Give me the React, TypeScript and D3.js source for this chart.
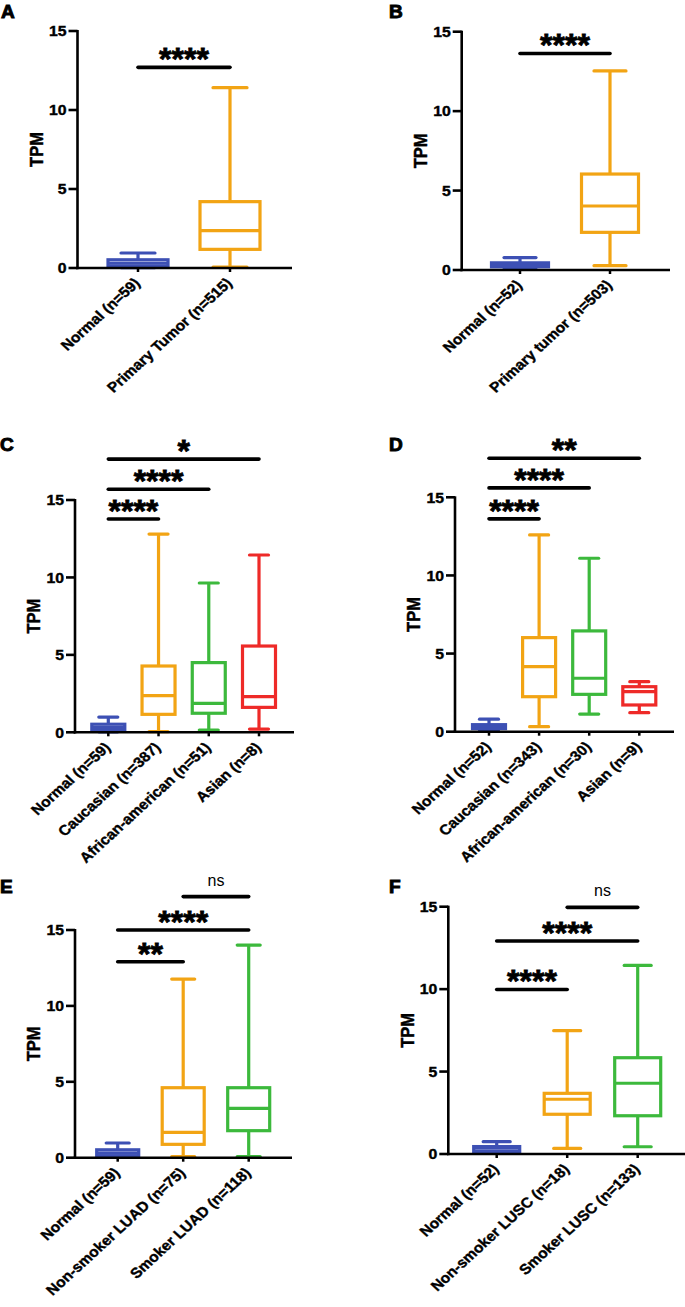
import React from "react";
import * as d3 from "d3";

// ---------- DATA ----------
const BLUE = "#3d50b4";
const ORANGE = "#f2a414";
const GREEN = "#3cb93c";
const RED = "#ee2a28";

const yTicks = [0, 5, 10, 15];

// [min, q1, median, q3, max]
const catsA = ["Normal (n=59)", "Primary Tumor (n=515)"];
const boxesA = [
  [0.03, 0.13, 0.3, 0.52, 0.95],
  [0.05, 1.18, 2.36, 4.2, 11.41],
];
const sigA = [{ from: 0, to: 1, y: 12.7, label: "****" }];

const catsB = ["Normal (n=52)", "Primary tumor (n=503)"];
const boxesB = [
  [0.05, 0.2, 0.35, 0.45, 0.78],
  [0.27, 2.37, 4.03, 6.04, 12.53],
];
const sigB = [{ from: 0, to: 1, y: 13.63, label: "****" }];

const catsC = ["Normal (n=59)", "Caucasian (n=387)", "African-american (n=51)", "Asian (n=8)"];
const boxesC = [
  [0.03, 0.13, 0.3, 0.52, 0.98],
  [0.04, 1.16, 2.37, 4.28, 12.8],
  [0.15, 1.23, 1.87, 4.5, 9.64],
  [0.21, 1.61, 2.3, 5.57, 11.45],
];
const sigC = [
  { from: 0, to: 1, y: 13.77, label: "****" },
  { from: 0, to: 2, y: 15.69, label: "****" },
  { from: 0, to: 3, y: 17.64, label: "*" },
];

const catsD = ["Normal (n=52)", "Caucasian (n=343)", "African-american (n=30)", "Asian (n=9)"];
const boxesD = [
  [0.05, 0.2, 0.35, 0.45, 0.8],
  [0.32, 2.24, 4.16, 6.02, 12.59],
  [1.13, 2.39, 3.42, 6.45, 11.1],
  [1.22, 1.71, 2.56, 2.88, 3.2],
];
const sigD = [
  { from: 0, to: 1, y: 13.62, label: "****" },
  { from: 0, to: 2, y: 15.6, label: "****" },
  { from: 0, to: 3, y: 17.5, label: "**" },
];

const catsE = ["Normal (n=59)", "Non-smoker LUAD (n=75)", "Smoker LUAD (n=118)"];
const boxesE = [
  [0.03, 0.13, 0.3, 0.52, 0.97],
  [0.07, 0.88, 1.67, 4.61, 11.77],
  [0.07, 1.78, 3.25, 4.61, 14.01],
];
const sigE = [
  { from: 0, to: 1, y: 12.91, label: "**" },
  { from: 0, to: 2, y: 15.0, label: "****" },
  { from: 1, to: 2, y: 17.2, label: "ns" },
];

const catsF = ["Normal (n=52)", "Non-smoker LUSC (n=18)", "Smoker LUSC (n=133)"];
const boxesF = [
  [0.05, 0.15, 0.35, 0.45, 0.75],
  [0.34, 2.41, 3.32, 3.68, 7.48],
  [0.44, 2.32, 4.29, 5.84, 11.44],
];
const sigF = [
  { from: 0, to: 1, y: 9.98, label: "****" },
  { from: 0, to: 2, y: 12.92, label: "****" },
  { from: 1, to: 2, y: 14.96, label: "ns" },
];

// ---------- LAYOUT ----------
const FONT = "'Liberation Sans', Arial, Helvetica, sans-serif";
const SX = 1.09; // horizontal stretch of the original figure's text

type Cfg = {
  letter: string;
  lx: number;
  ly: number;
  axisX: number;
  y0: number;
  y15: number;
  xEnd: number;
  cFirst: number;
  cLast: number;
  boxW: number;
  capW: number;
  cats: string[];
  boxes: number[][];
  colors: string[];
  sigs: { from: number; to: number; y: number; label: string }[];
};

const panels: Cfg[] = [
  { letter: "A", lx: 1, ly: 17.5, axisX: 77.5, y0: 268, y15: 31, xEnd: 292, cFirst: 138, cLast: 230, boxW: 60, capW: 34,
    cats: catsA, boxes: boxesA, colors: [BLUE, ORANGE], sigs: sigA },
  { letter: "B", lx: 389, ly: 17.5, axisX: 461.7, y0: 270, y15: 31.7, xEnd: 670, cFirst: 520, cLast: 610, boxW: 57, capW: 32,
    cats: catsB, boxes: boxesB, colors: [BLUE, ORANGE], sigs: sigB },
  { letter: "C", lx: 0, ly: 450.5, axisX: 75, y0: 732.3, y15: 500, xEnd: 294, cFirst: 108.3, cLast: 259, boxW: 33, capW: 19,
    cats: catsC, boxes: boxesC, colors: [BLUE, ORANGE, GREEN, RED], sigs: sigC },
  { letter: "D", lx: 389, ly: 450.5, axisX: 455, y0: 731.7, y15: 497.3, xEnd: 674, cFirst: 489, cLast: 639.3, boxW: 33, capW: 19,
    cats: catsD, boxes: boxesD, colors: [BLUE, ORANGE, GREEN, RED], sigs: sigD },
  { letter: "E", lx: 0, ly: 893, axisX: 75, y0: 1157.7, y15: 930, xEnd: 292, cFirst: 117.7, cLast: 248.7, boxW: 42, capW: 23,
    cats: catsE, boxes: boxesE, colors: [BLUE, ORANGE, GREEN], sigs: sigE },
  { letter: "F", lx: 389, ly: 893, axisX: 448.3, y0: 1154, y15: 906.7, xEnd: 685, cFirst: 496.7, cLast: 637.7, boxW: 46, capW: 27,
    cats: catsF, boxes: boxesF, colors: [BLUE, ORANGE, GREEN], sigs: sigF },
];

const heavy = { stroke: "#000", strokeWidth: 0.4 };

function Panel({ p }: { p: Cfg }) {
  const y = d3.scaleLinear().domain([0, 15]).range([p.y0, p.y15]);
  const x = d3.scalePoint<string>().domain(p.cats).range([p.cFirst, p.cLast]);
  const midY = (p.y0 + p.y15) / 2;
  return (
    <g>
      <text
        transform={`translate(${p.lx},${p.ly}) scale(${SX},1)`}
        fontFamily={FONT}
        fontWeight={700}
        fontSize={17.5}
        fill="#000"
        stroke="#000"
        strokeWidth={0.9}
      >
        {p.letter}
      </text>
      {/* y axis */}
      <line x1={p.axisX} x2={p.axisX} y1={y(15) - 1} y2={y(0) + 1.2} stroke="#000" strokeWidth={2.6} />
      {yTicks.map((t) => (
        <g key={t}>
          <line x1={p.axisX - 9} x2={p.axisX} y1={y(t)} y2={y(t)} stroke="#000" strokeWidth={2.6} />
          <text
            transform={`translate(${p.axisX - 11},${y(t)}) scale(${SX},1)`}
            dy="0.36em"
            textAnchor="end"
            fontFamily={FONT}
            fontWeight={700}
            fontSize={14.5}
            fill="#000"
            {...heavy}
          >
            {t}
          </text>
        </g>
      ))}
      <text
        transform={`translate(${p.axisX - 41},${midY}) scale(${SX},1) rotate(-90)`}
        textAnchor="middle"
        dy="0.36em"
        fontFamily={FONT}
        fontWeight={700}
        fontSize={16.5}
        fill="#000"
        {...heavy}
      >
        TPM
      </text>
      {/* boxes */}
      {p.cats.map((c, i) => {
        const [mn, q1, md, q3, mx] = p.boxes[i];
        const cx = x(c)!;
        const col = p.colors[i];
        return (
          <g key={c} stroke={col} strokeWidth={3.2} fill="none">
            <line x1={cx} x2={cx} y1={y(mx)} y2={y(q3)} />
            <line x1={cx} x2={cx} y1={y(q1)} y2={y(mn)} />
            <line x1={cx - p.capW / 2} x2={cx + p.capW / 2} y1={y(mx)} y2={y(mx)} strokeLinecap="round" />
            <line x1={cx - p.capW / 2} x2={cx + p.capW / 2} y1={y(mn)} y2={y(mn)} strokeLinecap="round" />
            <rect x={cx - p.boxW / 2} y={y(q3)} width={p.boxW} height={Math.max(0.5, y(q1) - y(q3))} />
            <line x1={cx - p.boxW / 2} x2={cx + p.boxW / 2} y1={y(md)} y2={y(md)} />
          </g>
        );
      })}
      {/* x axis */}
      <line x1={p.axisX - 1.3} x2={p.xEnd} y1={y(0)} y2={y(0)} stroke="#000" strokeWidth={2.6} />
      {p.cats.map((c) => (
        <line key={c} x1={x(c)!} x2={x(c)!} y1={y(0)} y2={y(0) + 4} stroke="#000" strokeWidth={2.5} />
      ))}
      {p.cats.map((c) => (
        <text
          key={c}
          transform={`translate(${x(c)! + 3},${y(0) + 16}) scale(${SX},1) rotate(-45)`}
          textAnchor="end"
          fontFamily={FONT}
          fontWeight={700}
          fontSize={14.3}
          fill="#000"
          {...heavy}
        >
          {c}
        </text>
      ))}
      {/* significance */}
      {p.sigs.map((s, i) => {
        const x1 = x(p.cats[s.from])!;
        const x2 = x(p.cats[s.to])!;
        const yy = y(s.y);
        const isNs = s.label === "ns";
        return (
          <g key={i}>
            <line x1={x1} x2={x2} y1={yy} y2={yy} stroke="#000" strokeWidth={3.6} strokeLinecap="round" />
            <text
              x={(x1 + x2) / 2}
              y={isNs ? yy - 11 : yy + 3}
              textAnchor="middle"
              fontFamily={FONT}
              fontWeight={isNs ? 400 : 700}
              fontSize={isNs ? 16 : 32}
              fill="#000"
              stroke={isNs ? "none" : "#000"}
              strokeWidth={isNs ? 0 : 0.8}
            >
              {s.label}
            </text>
          </g>
        );
      })}
    </g>
  );
}

export default function App() {
  return (
    <svg
      width={685}
      height={1307}
      viewBox="0 0 685 1307"
      style={{ position: "absolute", left: 0, top: 0, background: "#fff", display: "block" }}
    >
      <rect width={685} height={1307} fill="#fff" />
      {panels.map((p) => (
        <Panel key={p.letter} p={p} />
      ))}
    </svg>
  );
}
